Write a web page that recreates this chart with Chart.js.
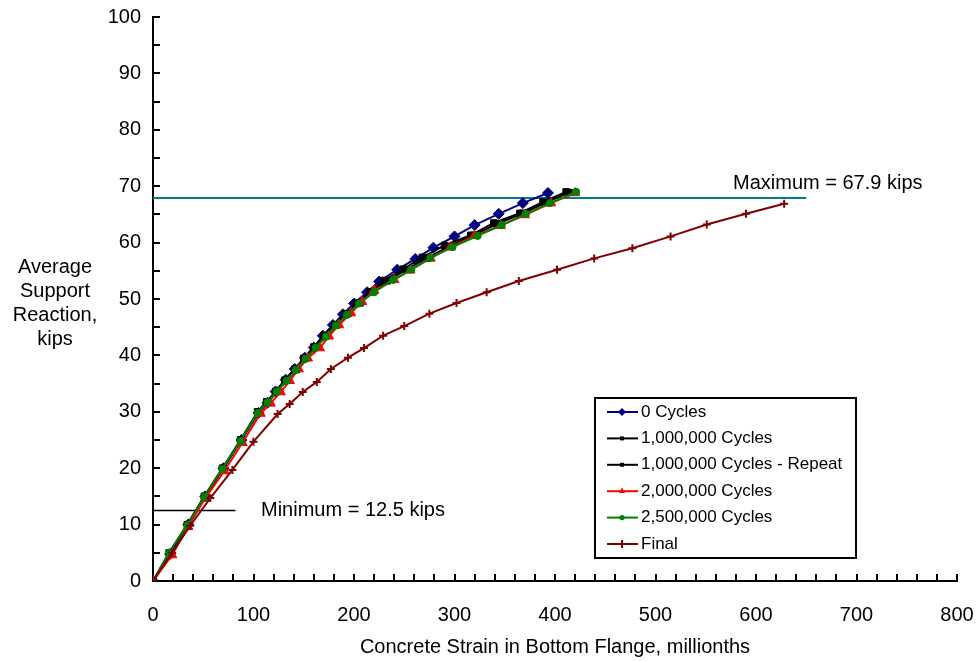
<!DOCTYPE html>
<html>
<head>
<meta charset="utf-8">
<script src="https://cdn.jsdelivr.net/npm/chart.js"></script>
<style>
  html, body { margin: 0; padding: 0; background: #fff; }
</style>
</head>
<body>
<canvas id="myChart" width="977" height="661"></canvas>
<script>
const seriesNames = [
  "0 Cycles",
  "1,000,000 Cycles",
  "1,000,000 Cycles - Repeat",
  "2,000,000 Cycles",
  "2,500,000 Cycles",
  "Final",
];

// strain (millionths) / load (kips)
const strain0 = [0, 17, 35, 52, 70, 88, 105, 114, 122, 132, 141, 151, 160, 169, 179, 189, 200, 213, 225, 243, 261, 279, 300, 320, 344, 368, 393];
const load0 = [0, 4.8, 10, 15, 20, 25, 29.8, 31.6, 33.6, 35.7, 37.6, 39.6, 41.4, 43.5, 45.4, 47.3, 49.2, 51.2, 53.1, 55.2, 57.1, 59.1, 61.1, 63.1, 65.1, 67.0, 68.8];

const strain1m = [0, 16, 34, 51, 69, 87, 104, 113, 122, 131, 141, 150, 160, 170, 181, 192, 203, 216, 230, 249, 268, 290, 316, 339, 365, 388, 411];
const load1m = [0, 5, 10, 15, 20, 25, 30, 31.8, 33.6, 35.6, 37.6, 39.5, 41.5, 43.5, 45.4, 47.4, 49.3, 51.3, 53.3, 55.3, 57.4, 59.5, 61.3, 63.5, 65.2, 67.2, 69.0];

const strain1mRep = [0, 17, 35, 52, 70, 88, 105, 115, 124, 133, 143, 152, 162, 172, 183, 194, 206, 219, 233, 252, 272, 294, 319, 342, 368, 391, 414];
const load1mRep = [0, 5, 10, 15, 20, 25, 30, 31.8, 33.7, 35.6, 37.5, 39.5, 41.5, 43.4, 45.4, 47.4, 49.3, 51.3, 53.2, 55.2, 57.2, 59.3, 61.3, 63.3, 65.2, 67.1, 68.9];

const strain2m = [0, 19, 35, 52, 71, 89, 107, 117, 127, 136, 145, 154, 166, 175, 185, 197, 208, 220, 240, 256, 276, 296, 320, 346, 370, 396, 420];
const load2m = [0, 4.6, 9.6, 14.7, 19.5, 24.5, 29.7, 31.5, 33.5, 35.5, 37.6, 39.5, 41.3, 43.4, 45.4, 47.5, 49.5, 51.5, 53.4, 55.1, 57.2, 59.2, 61.2, 63.0, 64.9, 67.0, 68.8];

const strain25m = [0, 16, 34, 51, 69, 87, 104, 114, 123, 133, 142, 152, 162, 172, 182, 193, 205, 220, 239, 257, 276, 298, 323, 347, 371, 395, 421];
const load25m = [0, 5, 9.9, 14.9, 19.9, 24.8, 29.8, 31.7, 33.6, 35.5, 37.4, 39.4, 41.4, 43.3, 45.3, 47.2, 49.2, 51.2, 53.4, 55.2, 57.3, 59.2, 61.2, 63.1, 65.1, 67.0, 69.0];

const strainFinal = [0, 19, 37, 57, 79, 100, 124, 136, 149, 163, 177, 194, 210, 229, 250, 275, 302, 332, 364, 402, 439, 477, 515, 551, 590, 628];
const loadFinal = [0, 5, 9.8, 14.7, 19.7, 24.7, 29.6, 31.4, 33.5, 35.3, 37.6, 39.6, 41.3, 43.5, 45.2, 47.4, 49.3, 51.2, 53.2, 55.2, 57.2, 59.0, 61.1, 63.2, 65.1, 66.9];

const maxLoad = 67.9;
const minLoad = 12.5;
const maxLineStrain = [0, 650];
const minLineStrain = [0, 82];

const xTickValues = [0, 100, 200, 300, 400, 500, 600, 700, 800];
const yTickValues = [0, 10, 20, 30, 40, 50, 60, 70, 80, 90, 100];

const colors = ["#000080", "#000000", "#000000", "#ff0000", "#008000", "#800000"];
const markers = ["rectRot", "rect", "rect", "triangle", "circle", "cross"];
const markerSize = [5.5, 4.5, 4.5, 5.5, 3.6, 4];
const legendMarkerSize = [4, 2.8, 2.8, 3.6, 2.6, 4];

const FONT = "'Liberation Sans', Arial, Helvetica, sans-serif";
Chart.defaults.font.family = FONT;
Chart.defaults.color = "#000";

function pts(xs, ys) {
  return xs.map((x, i) => ({ x: x, y: ys[i] }));
}

const seriesData = [
  pts(strain0, load0),
  pts(strain1m, load1m),
  pts(strain1mRep, load1mRep),
  pts(strain2m, load2m),
  pts(strain25m, load25m),
  pts(strainFinal, loadFinal),
];

const datasets = seriesData.map((d, i) => ({
  label: seriesNames[i],
  data: d,
  showLine: true,
  borderColor: colors[i],
  backgroundColor: colors[i],
  borderWidth: 2,
  pointStyle: markers[i],
  pointRadius: markerSize[i],
  pointBorderWidth: markers[i] === "cross" ? 2 : 1,
  pointBackgroundColor: colors[i],
  pointBorderColor: colors[i],
  order: 10 - i,
}));

datasets.push({
  label: "max",
  data: pts(maxLineStrain, [maxLoad, maxLoad]),
  showLine: true,
  borderColor: "#008080",
  borderWidth: 2,
  pointRadius: 0,
  order: 20,
});
datasets.push({
  label: "min",
  data: pts(minLineStrain, [minLoad, minLoad]),
  showLine: true,
  borderColor: "#000000",
  borderWidth: 1.5,
  pointRadius: 0,
  order: 20,
});

function drawMarker(ctx, style, x, y, r, color) {
  ctx.save();
  ctx.fillStyle = color;
  ctx.strokeStyle = color;
  ctx.lineWidth = 1;
  ctx.beginPath();
  if (style === "rectRot") {
    ctx.moveTo(x - r, y);
    ctx.lineTo(x, y - r);
    ctx.lineTo(x + r, y);
    ctx.lineTo(x, y + r);
    ctx.closePath();
    ctx.fill();
  } else if (style === "rect") {
    const s = r * Math.SQRT1_2;
    ctx.rect(x - s, y - s, 2 * s, 2 * s);
    ctx.fill();
  } else if (style === "triangle") {
    const h = r * 1.5;
    const w = r * Math.sqrt(3) / 2;
    ctx.moveTo(x - w, y + h / 3);
    ctx.lineTo(x + w, y + h / 3);
    ctx.lineTo(x, y - 2 * h / 3);
    ctx.closePath();
    ctx.fill();
  } else if (style === "circle") {
    ctx.arc(x, y, r, 0, Math.PI * 2);
    ctx.fill();
  } else if (style === "cross") {
    ctx.lineWidth = 2;
    ctx.moveTo(x - r, y);
    ctx.lineTo(x + r, y);
    ctx.moveTo(x, y - r);
    ctx.lineTo(x, y + r);
    ctx.stroke();
  }
  ctx.restore();
}

const decorations = {
  id: "decorations",
  afterDraw(chart) {
    const ctx = chart.ctx;
    const xs = chart.scales.x;
    const ys = chart.scales.y;
    const area = chart.chartArea;
    ctx.save();

    // inside tick marks
    ctx.strokeStyle = "#000";
    ctx.lineWidth = 2;
    ctx.beginPath();
    for (let v = 20; v <= 800; v += 20) {
      const px = Math.round(xs.getPixelForValue(v));
      ctx.moveTo(px, area.bottom);
      ctx.lineTo(px, area.bottom - 7);
    }
    for (let v = 5; v <= 100; v += 5) {
      const py = Math.round(ys.getPixelForValue(v));
      ctx.moveTo(area.left, py);
      ctx.lineTo(area.left + 7, py);
    }
    ctx.stroke();

    // y axis title, horizontal lines of text
    ctx.fillStyle = "#000";
    ctx.font = "20px " + FONT;
    ctx.textAlign = "center";
    ctx.textBaseline = "alphabetic";
    const yTitle = ["Average", "Support", "Reaction,", "kips"];
    yTitle.forEach((t, i) => ctx.fillText(t, 55, 273 + i * 24));

    // reference line labels
    ctx.textAlign = "left";
    ctx.textBaseline = "middle";
    ctx.fillText("Maximum = " + maxLoad + " kips", 733, ys.getPixelForValue(maxLoad) - 15);
    ctx.fillText("Minimum = " + minLoad + " kips", 261, ys.getPixelForValue(minLoad));

    // legend box
    const lx = 595, ly = 398, lw = 261, lh = 160;
    ctx.fillStyle = "#fff";
    ctx.fillRect(lx, ly, lw, lh);
    ctx.strokeStyle = "#000";
    ctx.lineWidth = 2;
    ctx.strokeRect(lx, ly, lw, lh);
    ctx.font = "17px " + FONT;
    seriesNames.forEach((name, i) => {
      const cy = 412 + i * 26.4;
      ctx.strokeStyle = colors[i];
      ctx.lineWidth = 2;
      ctx.beginPath();
      ctx.moveTo(607, cy);
      ctx.lineTo(638, cy);
      ctx.stroke();
      drawMarker(ctx, markers[i], 622, cy, legendMarkerSize[i], colors[i]);
      ctx.fillStyle = "#000";
      ctx.fillText(name, 641, cy);
    });
    ctx.restore();
  },
};

new Chart("myChart", {
  type: "scatter",
  data: { datasets: datasets },
  options: {
    responsive: false,
    animation: false,
    events: [],
    layout: {
      padding: { left: 0, right: 20, top: 17, bottom: 0 },
    },
    plugins: {
      legend: { display: false },
      tooltip: { enabled: false },
    },
    scales: {
      x: {
        type: "linear",
        min: 0,
        max: 800,
        afterBuildTicks: (s) => {
          s.ticks = xTickValues.map((v) => ({ value: v }));
        },
        afterFit: (s) => {
          s.height = 80;
          s.paddingLeft = 0;
          s.paddingRight = 0;
        },
        grid: { display: false, drawTicks: false },
        border: { display: true, color: "#000", width: 2 },
        ticks: {
          padding: 22,
          font: { size: 20 },
          color: "#000",
          maxRotation: 0,
        },
        title: {
          display: true,
          text: "Concrete Strain in Bottom Flange, millionths",
          font: { size: 20 },
          color: "#000",
          padding: { top: 0, bottom: 2 },
        },
      },
      y: {
        type: "linear",
        min: 0,
        max: 100,
        afterBuildTicks: (s) => {
          s.ticks = yTickValues.map((v) => ({ value: v }));
        },
        afterFit: (s) => {
          s.width = 153;
          s.paddingTop = 0;
          s.paddingBottom = 0;
        },
        grid: { display: false, drawTicks: false },
        border: { display: true, color: "#000", width: 2 },
        ticks: {
          padding: 12,
          font: { size: 20 },
          color: "#000",
        },
      },
    },
  },
  plugins: [decorations],
});
</script>
</body>
</html>
